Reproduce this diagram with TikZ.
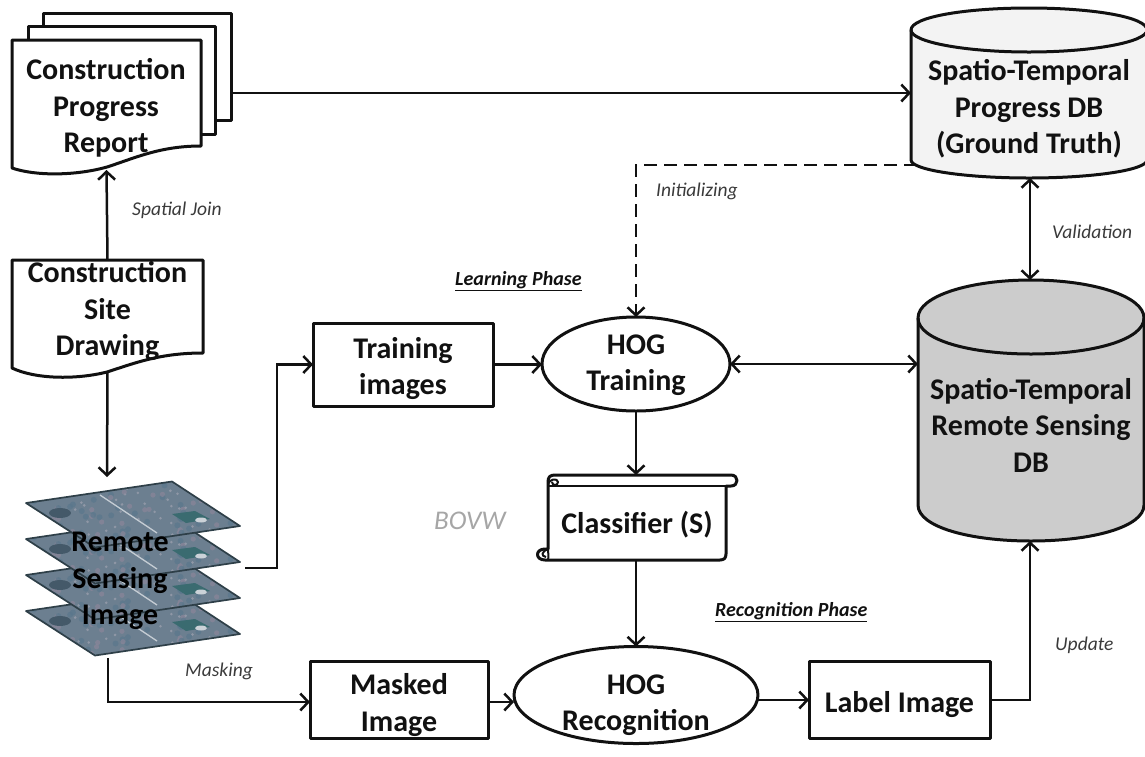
\documentclass[tikz,border=0pt]{standalone}
\usepackage{fontspec}
\setmainfont{Carlito}
\usetikzlibrary{arrows.meta,shapes.geometric,calc}
\definecolor{ink}{HTML}{111111}
\definecolor{lightdb}{HTML}{F3F3F3}
\definecolor{darkdb}{HTML}{CCCCCC}
\definecolor{satbase}{HTML}{6C7F90}
\definecolor{satdark}{HTML}{2E3F48}
\definecolor{satgreen}{HTML}{3A6B70}
\definecolor{satpink}{HTML}{8A8699}
\definecolor{satblue}{HTML}{5A778C}
\definecolor{captext}{HTML}{3A3A3A}
\tikzset{
 x=1pt,y=-1pt,
 barb/.tip={Straight Barb[length=8pt,width=17pt,line width=2.5pt]},
 conn/.style={draw=ink,line width=2.5pt,-barb},
 biconn/.style={draw=ink,line width=2.5pt,barb-barb},
 outline/.style={draw=ink,line width=3pt,line join=round},
 big/.style={font=\fontsize{30}{36.5}\selectfont\bfseries,align=center,text=ink,inner sep=0pt},
 ghost/.style={inner sep=0pt,outer sep=0pt,rectangle},
 stepbox/.style={outline,fill=white,rectangle,inner sep=0pt,outer sep=0pt},
 oval/.style={outline,fill=white,ellipse,inner sep=0pt,outer sep=0pt},
 edgecap/.style={font=\fontsize{19.5}{22}\selectfont\itshape,text=captext,inner sep=0pt},
 phase/.style={font=\fontsize{20}{24}\selectfont\itshape\bfseries,text=ink,inner sep=0pt},
}
\newcommand{\satlayer}[1]{%
 \begin{scope}[yshift=-#1pt]
  \begin{scope}
  \clip (26,503) -- (172,481.5) -- (240,526) -- (95,547.5) -- cycle;
  \fill[satbase] (20,475) rectangle (245,550);
  \pgfmathsetseed{7}
  \foreach \i in {1,...,170}{
    \pgfmathsetmacro{\px}{26+214*rnd}
    \pgfmathsetmacro{\py}{481+67*rnd}
    \pgfmathsetmacro{\pc}{int(3*rnd)}
    \ifnum\pc=0 \fill[satpink,opacity=.7] (\px,\py) circle[radius=2.6pt];\fi
    \ifnum\pc=1 \fill[satblue,opacity=.7] (\px,\py) circle[radius=3pt];\fi
    \ifnum\pc=2 \fill[white!35!satpink,opacity=.5] (\px,\py) circle[radius=1.4pt];\fi
  }
  \fill[satgreen] (172,514) -- (195,511) -- (210,519) -- (186,523) -- cycle;
  \fill[satblue!75!black] (60,513) circle[x radius=11pt,y radius=5pt];
  \draw[white!60!satbase,line width=1.3pt] (100,495) -- (157,533);
  \fill[white!65!satbase] (201,520) circle[x radius=6pt,y radius=2.5pt];
  \end{scope}
  \draw[satdark,line width=1.7pt,line join=round] (26,503) -- (172,481.5) -- (240,526) -- (95,547.5) -- cycle;
 \end{scope}}
\begin{document}
\begin{tikzpicture}
\useasboundingbox (0,0) rectangle (1145,756);
% stacked report
\draw[outline,fill=white] (43,26) -- (43,13) -- (231,13) -- (231,120) -- (215,120);
\draw[outline,fill=white] (28,40) -- (28,26) -- (215,26) -- (215,134) -- (201,134);
\draw[outline,fill=white] (12,40) -- (201,40) -- (201,146) .. controls (160,146) and (135,158) .. (107,167) .. controls (75,176) and (35,176) .. (12,168) -- cycle;
\node[ghost,minimum width=189pt,minimum height=130pt] (report) at (106.5,105) {};
\node[big] (reporttext) at (106,108) {Construction\\Progress\\Report};
% site drawing
\draw[outline,fill=white] (12,260) -- (203,260) -- (203,353) .. controls (160,353) and (135,363) .. (107,372) .. controls (75,380) and (35,379) .. (12,368) -- cycle;
\node[ghost,minimum width=191pt,minimum height=112pt] (site) at (107.5,316) {};
\node[big] (sitetext) at (107.5,311) {Construction\\Site\\Drawing};
% remote sensing stack
\satlayer{108}\satlayer{72}\satlayer{36}\satlayer{0}
\node[ghost,minimum width=214pt,minimum height=175pt] (sensing) at (133,569) {};
\node[big,text=black] (sensingtext) at (120,581) {Remote\\Sensing\\Image};
\coordinate (sensingin) at (107,477);
\coordinate (sensingout) at (245,568);
\coordinate (sensingbottom) at (108,658);
\coordinate (maskin) at (108,702);
\coordinate (labelout) at (990,700);
% boxes
\node[stepbox,minimum width=180pt,minimum height=83pt] (training) at (403,364.5) {};
\node[big] (trainingtext) at (403,368.5) {Training\\images};
\node[stepbox,minimum width=178pt,minimum height=77pt] (masked) at (399,699.5) {};
\node[big] (maskedtext) at (399,705) {Masked\\Image};
\node[stepbox,minimum width=181pt,minimum height=77pt] (label) at (899.5,699.5) {};
\node[big] (labeltext) at (899.5,705) {Label Image};
% ellipses
\node[oval,minimum width=188pt,minimum height=94pt] (hogt) at (636,364) {};
\node[big] (hogttext) at (636,365) {HOG\\Training};
\node[oval,minimum width=244pt,minimum height=97pt] (hogr) at (636,695) {};
\node[big] (hogrtext) at (636,705) {HOG\\Recognition};
% classifier scroll
\draw[outline,fill=white] (548,482) .. controls (548,477) and (550,475) .. (555,475) -- (731,475) .. controls (739,475) and (739,486) .. (731,486) -- (726,486) -- (726,554) .. controls (726,558) and (724,560) .. (720,560) -- (545,560) .. controls (535,560) and (535,549) .. (545,549) -- (548,549) -- cycle;
\draw[outline,line width=2.4pt] (548,486) -- (726,486);
\draw[outline,line width=2pt] (548,486) .. controls (548,478) and (558,478) .. (558,482) .. controls (558,486) and (552,486) .. (552,482);
\draw[outline,line width=2pt] (548,560) .. controls (549,556) and (548,553) .. (548,549) .. controls (541,552) and (541,556) .. (546,557);
\node[ghost,minimum width=178pt,minimum height=85pt] (classifier) at (637,517.5) {};
\node[big] (classifiertext) at (637,525) {Classifier (S)};
% databases
\draw[outline,fill=lightdb] (911,30) .. controls (911,17) and (965,8) .. (1029,8) .. controls (1093,8) and (1147,17) .. (1147,30) -- (1147,160) .. controls (1147,170) and (1093,178) .. (1029,178) .. controls (965,178) and (911,170) .. (911,160) -- cycle;
\draw[outline] (911,30) .. controls (911,42) and (965,52) .. (1029,52) .. controls (1093,52) and (1147,42) .. (1147,30);
\node[ghost,minimum width=236pt,minimum height=170pt] (progress) at (1029,93) {};
\node[big] (progresstext) at (1029,109) {Spatio-Temporal\\Progress DB\\(Ground Truth)};
\draw[outline,fill=darkdb] (918,318) .. controls (918,296) and (970,280) .. (1031,280) .. controls (1092,280) and (1144,296) .. (1144,318) -- (1144,505) .. controls (1144,527) and (1092,541) .. (1031,541) .. controls (970,541) and (918,527) .. (918,505) -- cycle;
\draw[outline] (918,318) .. controls (918,340) and (970,354) .. (1031,354) .. controls (1092,354) and (1144,340) .. (1144,318);
\node[ghost,minimum width=226pt,minimum height=261pt] (remote) at (1031,410.5) {};
\node[big] (remotetext) at (1031,425) {Spatio-Temporal\\Remote Sensing\\DB};
% connectors
\draw[conn] (231,93) -- (progress.west);
\draw[conn] (site.north) -- (report.south);
\draw[conn] (site.south) -- (sensingin);
\draw[conn] (sensingout) -- (277,568) -- (277,364.5) -- (training.west);
\draw[conn] (sensingbottom) -- (maskin) -- (maskin -| masked.west);
\draw[conn] (training.east) -- (training.east -| hogt.west);
\draw[biconn] (hogt.east) -- (hogt.east -| remote.west);
\draw[conn] (hogt.south) -- (classifier.north -| hogt.south);
\draw[conn] (classifier.south -| hogt.south) -- (hogr.north);
\draw[conn] (maskin -| masked.east) -- (maskin -| hogr.west);
\draw[conn] (labelout -| hogr.east) -- (labelout -| label.west);
\draw[conn] (labelout) -- (1030,700) -- (1030,541);
\draw[biconn] (1030,178) -- (1030,280);
\draw[conn,dashed,dash pattern=on 13pt off 7pt] (progress.south west) ++(6,-13) -- (636,165) -- (hogt.north);
% labels
\node[edgecap,anchor=west] (c1) at (132,210) {Spatial Join};
\node[edgecap,anchor=west] (c2) at (656,191) {Initializing};
\node[edgecap,anchor=west] (c3) at (1052,232) {Validation};
\node[edgecap,anchor=west] (c4) at (185,671) {Masking};
\node[edgecap,anchor=west] (c5) at (1055,645) {Update};
\node[phase,anchor=west] (p1) at (455,281) {\underline{Learning Phase}};
\node[phase,anchor=west] (p2) at (715,612) {\underline{Recognition Phase}};
\node[anchor=west,inner sep=0pt,font=\fontsize{27}{30}\selectfont\itshape,text=black!35] (bovw) at (434,521) {BOVW};
\end{tikzpicture}
\end{document}
